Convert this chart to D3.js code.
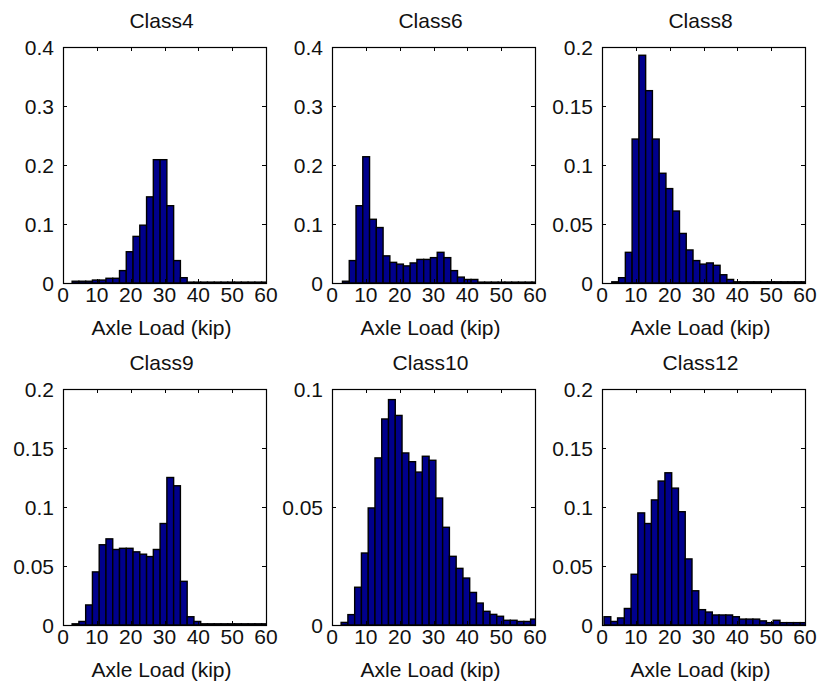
<!DOCTYPE html>
<html>
<head>
    <title>Axle Load Spectra</title>
    <script src="https://d3js.org/d3.v7.min.js"></script>
    <style>
        body {
            margin: 0;
            background: #fff;
        }

        text {
            font-family: "Liberation Sans", Arial, sans-serif;
            font-size: 21px;
            fill: #111;
        }

        .bar {
            fill: #00008c;
            stroke: #000;
            stroke-width: 1.4;
        }

        .frame {
            fill: none;
            stroke: #000;
            stroke-width: 1.2;
        }

        .tick-mark {
            stroke: #000;
            stroke-width: 1;
            shape-rendering: crispEdges;
        }
    </style>
</head>
<body>
<div id="chart"></div>

<script>
    // panel titles, in drawing order (row by row)
    var titles = ["Class4", "Class6", "Class8", "Class9", "Class10", "Class12"];

    // left edge of the first histogram bin (kip) for each panel, bin width 2 kip
    var binStarts = [2.7, 3.1, 2.9, 2.7, 2.7, 0.6];
    var binWidth = 2;

    // y axis upper limits and tick values
    var yMax = [0.4, 0.4, 0.2, 0.2, 0.1, 0.2];
    var yTicks = [
        [0, 0.1, 0.2, 0.3, 0.4],
        [0, 0.1, 0.2, 0.3, 0.4],
        [0, 0.05, 0.1, 0.15, 0.2],
        [0, 0.05, 0.1, 0.15, 0.2],
        [0, 0.05, 0.1],
        [0, 0.05, 0.1, 0.15, 0.2]
    ];
    var xTicks = [0, 10, 20, 30, 40, 50, 60];
    var xLabel = "Axle Load (kip)";

    // relative frequencies, 30 bins per class
    var class4 = [0.003, 0.003, 0.003, 0.005, 0.005, 0.008, 0.008, 0.021, 0.053, 0.079,
                  0.098, 0.146, 0.209, 0.209, 0.131, 0.038, 0.009, 0.0015, 0.0015, 0.0015,
                  0.0015, 0.0015, 0.0015, 0.0015, 0.0015, 0.0015, 0.0015, 0.0015, 0.0015, 0.0015];
    var class6 = [0.003, 0.038, 0.131, 0.214, 0.108, 0.094, 0.046, 0.035, 0.032, 0.029,
                  0.034, 0.040, 0.040, 0.043, 0.052, 0.043, 0.021, 0.010, 0.006, 0.006,
                  0.0015, 0.0015, 0.0015, 0.0015, 0.0015, 0.0015, 0.0015, 0.0015, 0.0015, 0.0015];
    var class8 = [0.001, 0.0045, 0.026, 0.122, 0.193, 0.163, 0.122, 0.093, 0.080, 0.061,
                  0.042, 0.028, 0.019, 0.016, 0.017, 0.015, 0.007, 0.003, 0.001, 0.001,
                  0.001, 0.001, 0.001, 0.001, 0.001, 0.001, 0.001, 0.001, 0.001, 0.001];
    var class9 = [0.001, 0.003, 0.017, 0.045, 0.068, 0.073, 0.064, 0.065, 0.065, 0.062,
                  0.060, 0.058, 0.064, 0.086, 0.125, 0.118, 0.037, 0.007, 0.003, 0.001,
                  0.001, 0.001, 0.001, 0.001, 0.001, 0.001, 0.001, 0.001, 0.001, 0.001];
    var class10 = [0.0011, 0.0044, 0.016, 0.0305, 0.0496, 0.0708, 0.0873, 0.0955, 0.0888, 0.0729,
                   0.0692, 0.0648, 0.0715, 0.0698, 0.0538, 0.0414, 0.0291, 0.024, 0.0199, 0.0138,
                   0.0093, 0.0058, 0.0045, 0.0037, 0.002, 0.002, 0.0015, 0.0015, 0.0025, 0.001];
    var class12 = [0.007, 0.003, 0.006, 0.014, 0.043, 0.095, 0.086, 0.106, 0.122, 0.129,
                   0.116, 0.096, 0.056, 0.029, 0.013, 0.011, 0.0085, 0.0085, 0.0085, 0.007,
                   0.005, 0.005, 0.005, 0.0035, 0.002, 0.004, 0.002, 0.002, 0.002, 0.002];

    var series = [class4, class6, class8, class9, class10, class12];

    var width = 817;
    var height = 689;

    // axes boxes: 3 columns x 2 rows
    var colLeft = [63, 332, 602];
    var rowTop = [47, 389];
    var plotW = 203;
    var plotH = 236;
    var tickLen = 4;

    var svg = d3.select("#chart").append("svg")
        .attr("width", width)
        .attr("height", height);

    series.forEach(function(values, i) {
        var left = colLeft[i % 3];
        var top = rowTop[Math.floor(i / 3)];

        var g = svg.append("g")
            .attr("transform", "translate(" + left + "," + top + ")");

        var xScale = d3.scaleLinear().domain([0, 60]).range([0, plotW]);
        var yScale = d3.scaleLinear().domain([0, yMax[i]]).range([plotH, 0]);

        // clip bars to the axes box
        g.append("clipPath")
            .attr("id", "clip" + i)
            .append("rect")
            .attr("width", plotW)
            .attr("height", plotH);

        var bins = values.map(function(v, k) {
            var x0 = binStarts[i] + k * binWidth;
            return { x0: x0, x1: x0 + binWidth, value: v };
        });

        g.append("g")
            .attr("clip-path", "url(#clip" + i + ")")
            .selectAll(".bar")
            .data(bins)
            .enter().append("rect")
            .attr("class", "bar")
            .attr("x", d => xScale(d.x0))
            .attr("width", d => xScale(d.x1) - xScale(d.x0))
            .attr("y", d => yScale(d.value))
            .attr("height", d => plotH - yScale(d.value));

        // inward ticks on all four sides
        var ticks = g.append("g");
        xTicks.forEach(function(t) {
            var x = Math.round(xScale(t)) + 0.5;
            ticks.append("line").attr("class", "tick-mark")
                .attr("x1", x).attr("x2", x).attr("y1", 0).attr("y2", tickLen);
            ticks.append("line").attr("class", "tick-mark")
                .attr("x1", x).attr("x2", x).attr("y1", plotH).attr("y2", plotH - tickLen);
        });
        yTicks[i].forEach(function(t) {
            var y = Math.round(yScale(t)) + 0.5;
            ticks.append("line").attr("class", "tick-mark")
                .attr("x1", 0).attr("x2", tickLen).attr("y1", y).attr("y2", y);
            ticks.append("line").attr("class", "tick-mark")
                .attr("x1", plotW).attr("x2", plotW - tickLen).attr("y1", y).attr("y2", y);
        });

        // box
        g.append("rect")
            .attr("class", "frame")
            .attr("x", 0.5)
            .attr("y", 0.5)
            .attr("width", plotW)
            .attr("height", plotH);

        // tick labels
        var fmt = d3.format("~g");
        g.selectAll(".xlab")
            .data(xTicks)
            .enter().append("text")
            .attr("x", d => xScale(d))
            .attr("y", plotH + 19)
            .style("text-anchor", "middle")
            .text(d => d);

        g.selectAll(".ylab")
            .data(yTicks[i])
            .enter().append("text")
            .attr("x", -9)
            .attr("y", d => yScale(d))
            .attr("dy", "0.36em")
            .style("text-anchor", "end")
            .text(d => fmt(d));

        // title and x label
        g.append("text")
            .attr("x", plotW / 2 - 3)
            .attr("y", -19)
            .style("text-anchor", "middle")
            .text(titles[i]);

        g.append("text")
            .attr("x", plotW / 2 - 3)
            .attr("y", plotH + 52)
            .style("text-anchor", "middle")
            .text(xLabel);
    });
</script>
</body>
</html>
